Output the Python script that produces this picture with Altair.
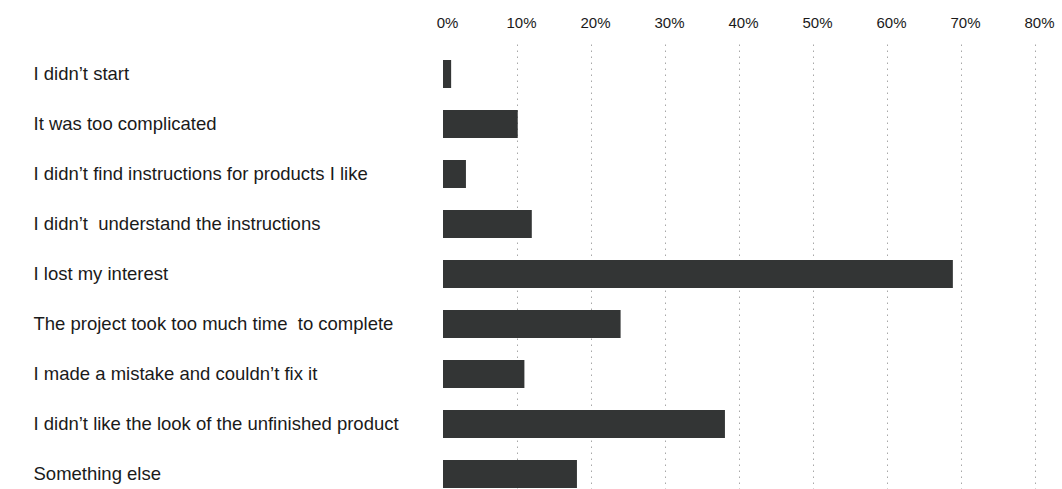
import altair as alt
import pandas as pd

categories = [
    "I didn’t start",
    "It was too complicated",
    "I didn’t find instructions for products I like",
    "I didn’t\u00a0 understand the instructions",
    "I lost my interest",
    "The project took too much time\u00a0 to complete",
    "I made a mistake and couldn’t fix it",
    "I didn’t like the look of the unfinished product",
    "Something else",
]
values = [0.011, 0.101, 0.031, 0.12, 0.689, 0.24, 0.11, 0.381, 0.181]
tick_values = [0, 0.1, 0.2, 0.3, 0.4, 0.5, 0.6, 0.7, 0.8]

df = pd.DataFrame({"reason": categories, "share": values})

FONT = "Liberation Sans"

chart = alt.Chart(df).mark_bar(color="#333535").encode(
    x=alt.X(
        "share:Q",
        scale=alt.Scale(domain=[0, 0.8], nice=False),
        axis=alt.Axis(
            orient="top",
            values=tick_values,
            format=".0%",
            title=None,
            domain=False,
            ticks=False,
            labelPadding=14,
            labelOffset=4,
            labelFontSize=15,
            labelFont=FONT,
            labelColor="#1a1a1a",
            grid=True,
            gridDash=[1.5, 4.5],
            gridColor="#a8a8a8",
            gridWidth=1,
            gridOpacity={"condition": {"test": "datum.value === 0", "value": 0}, "value": 1},
            labelFlush=False,
            labelOverlap=False,
        ),
    ),
    y=alt.Y(
        "reason:N",
        sort=categories,
        scale=alt.Scale(paddingInner=0.44, paddingOuter=0.32),
        axis=alt.Axis(
            title=None,
            domain=False,
            ticks=False,
            labelAlign="left",
            labelPadding=410,
            labelFontSize=18.5,
            labelFont=FONT,
            labelColor="#1a1a1a",
            labelLimit=420,
        ),
    ),
).properties(
    width=592,
    height=460,
    padding={"left": 33, "top": 15, "right": 5, "bottom": 0},
).configure_view(stroke=None)

chart.save("out.html", embed_options={"renderer": "svg", "actions": False})
